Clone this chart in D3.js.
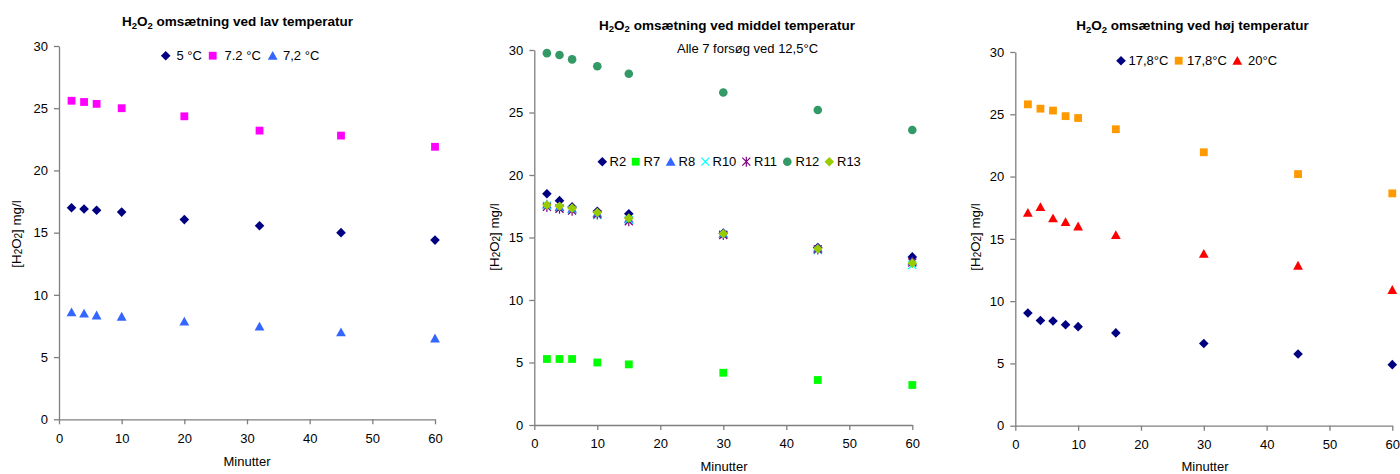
<!DOCTYPE html>
<html><head><meta charset="utf-8">
<script src="https://cdn.jsdelivr.net/npm/d3@7"></script>
<style>
body{margin:0;background:#fff}
svg{display:block}
text{font-family:"Liberation Sans",Arial,sans-serif;fill:#000}
</style>
</head><body>
<svg id="c" width="1400" height="474"></svg>
<script>
// ---------- data ----------
const xTicks = [0, 10, 20, 30, 40, 50, 60];
const yTicks = [0, 5, 10, 15, 20, 25, 30];

const titleRest = [" omsætning ved lav temperatur", " omsætning ved middel temperatur", " omsætning ved høj temperatur"];
const xLabel = "Minutter";
const midNote = "Alle 7 forsøg ved 12,5°C";

// low temperature
const lowTime = [2, 4, 6, 10, 20, 32, 45, 60];
const lowNames = ["5 °C", "7.2 °C", "7,2 °C"];
const low5C   = [17.0, 16.9, 16.8, 16.65, 16.05, 15.55, 15.0, 14.4];
const low72a  = [25.6, 25.5, 25.35, 25.0, 24.35, 23.2, 22.8, 21.9];
const low72b  = [8.6, 8.5, 8.35, 8.25, 7.85, 7.45, 7.0, 6.5];

// middle temperature
const midTime = [2, 4, 6, 10, 15, 30, 45, 60];
const midNames = ["R2", "R7", "R8", "R10", "R11", "R12", "R13"];
const midR2  = [18.5, 17.95, 17.45, 17.1, 16.9, 15.35, 14.2, 13.45];
const midR7  = [5.28, 5.28, 5.28, 5.0, 4.85, 4.18, 3.6, 3.2];
const midR8  = [17.65, 17.45, 17.3, 16.95, 16.5, 15.3, 14.15, 13.1];
const midR10 = [17.55, 17.35, 17.2, 16.8, 16.4, 15.25, 14.0, 12.8];
const midR11 = [17.45, 17.3, 17.15, 16.85, 16.3, 15.2, 14.05, 13.0];
const midR12 = [29.75, 29.6, 29.25, 28.7, 28.1, 26.6, 25.2, 23.6];
const midR13 = [17.6, 17.5, 17.35, 17.0, 16.55, 15.3, 14.1, 12.95];

// high temperature
const highTime = [2, 4, 6, 8, 10, 16, 30, 45, 60];
const highNames = ["17,8°C", "17,8°C", "20°C"];
const high178a = [9.05, 8.45, 8.4, 8.1, 7.95, 7.45, 6.6, 5.75, 4.9];
const high178b = [25.8, 25.45, 25.3, 24.85, 24.7, 23.8, 21.95, 20.2, 18.65];
const high20   = [17.1, 17.55, 16.65, 16.35, 16.0, 15.3, 13.8, 12.85, 10.9];

// ---------- layout ----------
const svg = d3.select("#c");
const AX = "#7f7f7f";

const panels = [
  { x0: 59, x1: 435, y0: 419.3, y1: 46, title: titleRest[0], tx: 237.5, ty: 26,
    ylx: 21, yly: 234, xlx: 247, xly: 466, legY: 55.7,
    series: [
      { name: lowNames[0], t: lowTime, v: low5C,  sym: "diamond",  col: "#000080", lx: 165.7, ltx: 176.5 },
      { name: lowNames[1], t: lowTime, v: low72a, sym: "square",   col: "#FF00FF", lx: 212.7, ltx: 224.5 },
      { name: lowNames[2], t: lowTime, v: low72b, sym: "triangle", col: "#3366FF", lx: 272.7, ltx: 283 }
    ] },
  { x0: 534.3, x1: 912.3, y0: 425, y1: 50, title: titleRest[1], tx: 727, ty: 29.5,
    ylx: 499, yly: 237, xlx: 724, xly: 471, legY: 161.7, note: midNote, nx: 747.5, ny: 52.5,
    series: [
      { name: midNames[0], t: midTime, v: midR2,  sym: "diamond",  col: "#000080", lx: 602.3, ltx: 609.5 },
      { name: midNames[1], t: midTime, v: midR7,  sym: "square",   col: "#00FF00", lx: 635.7, ltx: 643.5 },
      { name: midNames[2], t: midTime, v: midR8,  sym: "triangle", col: "#3366FF", lx: 670.7, ltx: 678.5 },
      { name: midNames[3], t: midTime, v: midR10, sym: "x",        col: "#00FFFF", lx: 705.3, ltx: 712.5 },
      { name: midNames[4], t: midTime, v: midR11, sym: "star",     col: "#800080", lx: 746.3, ltx: 754 },
      { name: midNames[5], t: midTime, v: midR12, sym: "circle",   col: "#339966", lx: 787.3, ltx: 795.5 },
      { name: midNames[6], t: midTime, v: midR13, sym: "diamond",  col: "#99CC00", lx: 829.3, ltx: 837 }
    ] },
  { x0: 1015.3, x1: 1392.3, y0: 425.7, y1: 52, title: titleRest[2], tx: 1192.5, ty: 30,
    ylx: 980, yly: 237, xlx: 1205, xly: 471, legY: 60.7,
    series: [
      { name: highNames[0], t: highTime, v: high178a, sym: "diamond",  col: "#000080", lx: 1121, ltx: 1128.5 },
      { name: highNames[1], t: highTime, v: high178b, sym: "square",   col: "#FF9900", lx: 1178.7, ltx: 1187 },
      { name: highNames[2], t: highTime, v: high20,   sym: "triangle", col: "#FF0000", lx: 1237.3, ltx: 1248 }
    ] }
];

function marker(g, sym, col) {
  switch (sym) {
    case "diamond":
      g.append("path").attr("d", "M0,-4.8L4.8,0L0,4.8L-4.8,0Z").attr("fill", col); break;
    case "square":
      g.append("rect").attr("x", -3.9).attr("y", -3.9).attr("width", 7.8).attr("height", 7.8).attr("fill", col); break;
    case "triangle":
      g.append("path").attr("d", "M0,-4.8L4.9,4L-4.9,4Z").attr("fill", col); break;
    case "circle":
      g.append("circle").attr("r", 4.3).attr("fill", col); break;
    case "x":
      g.append("path").attr("d", "M-4,-4L4,4M-4,4L4,-4").attr("stroke", col).attr("stroke-width", 1.2).attr("fill", "none"); break;
    case "star":
      g.append("path").attr("d", "M-4,-4L4,4M-4,4L4,-4M0,-5L0,5").attr("stroke", col).attr("stroke-width", 1.2).attr("fill", "none"); break;
  }
}

function h2o2(textSel, subSize, subShift) {
  textSel.append("tspan").text("H");
  textSel.append("tspan").attr("font-size", subSize).attr("dy", subShift).text("2");
  textSel.append("tspan").attr("dy", -subShift).text("O");
  textSel.append("tspan").attr("font-size", subSize).attr("dy", subShift).text("2");
  return textSel;
}

panels.forEach(p => {
  const x = d3.scaleLinear().domain([0, 60]).range([p.x0, p.x1]);
  const y = d3.scaleLinear().domain([0, 30]).range([p.y0, p.y1]);

  // axes
  const gx = svg.append("g").attr("transform", `translate(0,${p.y0})`)
    .call(d3.axisBottom(x).tickValues(xTicks).tickSize(5).tickSizeOuter(0).tickPadding(9));
  const gy = svg.append("g").attr("transform", `translate(${p.x0},0)`)
    .call(d3.axisLeft(y).tickValues(yTicks).tickSize(5).tickSizeOuter(0).tickPadding(6));
  [gx, gy].forEach(g => {
    g.select(".domain").attr("stroke", AX).attr("stroke-width", 1.3);
    g.selectAll(".tick line").attr("stroke", AX).attr("stroke-width", 1.3);
    g.selectAll(".tick text").attr("font-family", "Liberation Sans, Arial, sans-serif").attr("font-size", 13).attr("fill", "#000");
  });

  // title
  const t = svg.append("text").attr("x", p.tx).attr("y", p.ty).attr("text-anchor", "middle")
    .attr("font-size", 13.5).attr("font-weight", "bold");
  h2o2(t, 9.5, 2.5);
  t.append("tspan").attr("dy", -2.5).text(p.title);

  // y label
  const yl = svg.append("text").attr("transform", `translate(${p.ylx},${p.yly}) rotate(-90)`)
    .attr("text-anchor", "middle").attr("font-size", 13.3);
  yl.append("tspan").text("[");
  h2o2(yl, 10, 1);
  yl.append("tspan").attr("dy", -1).text("] mg/l");

  // x label
  svg.append("text").attr("x", p.xlx).attr("y", p.xly).attr("text-anchor", "middle")
    .attr("font-size", 13).text(xLabel);

  if (p.note) {
    svg.append("text").attr("x", p.nx).attr("y", p.ny).attr("text-anchor", "middle")
      .attr("font-size", 13).text(p.note);
  }

  // points
  p.series.forEach(s => {
    const pts = s.t.map((tv, i) => ({ t: tv, v: s.v[i] }));
    svg.append("g").selectAll("g").data(pts).join("g")
      .attr("transform", d => `translate(${x(d.t)},${y(d.v)})`)
      .each(function () { marker(d3.select(this), s.sym, s.col); });
  });

  // legend
  p.series.forEach(s => {
    marker(svg.append("g").attr("transform", `translate(${s.lx},${p.legY})`), s.sym, s.col);
    svg.append("text").attr("x", s.ltx).attr("y", p.legY + 4.6).attr("font-size", 13).text(s.name);
  });
});
</script>
</body></html>
